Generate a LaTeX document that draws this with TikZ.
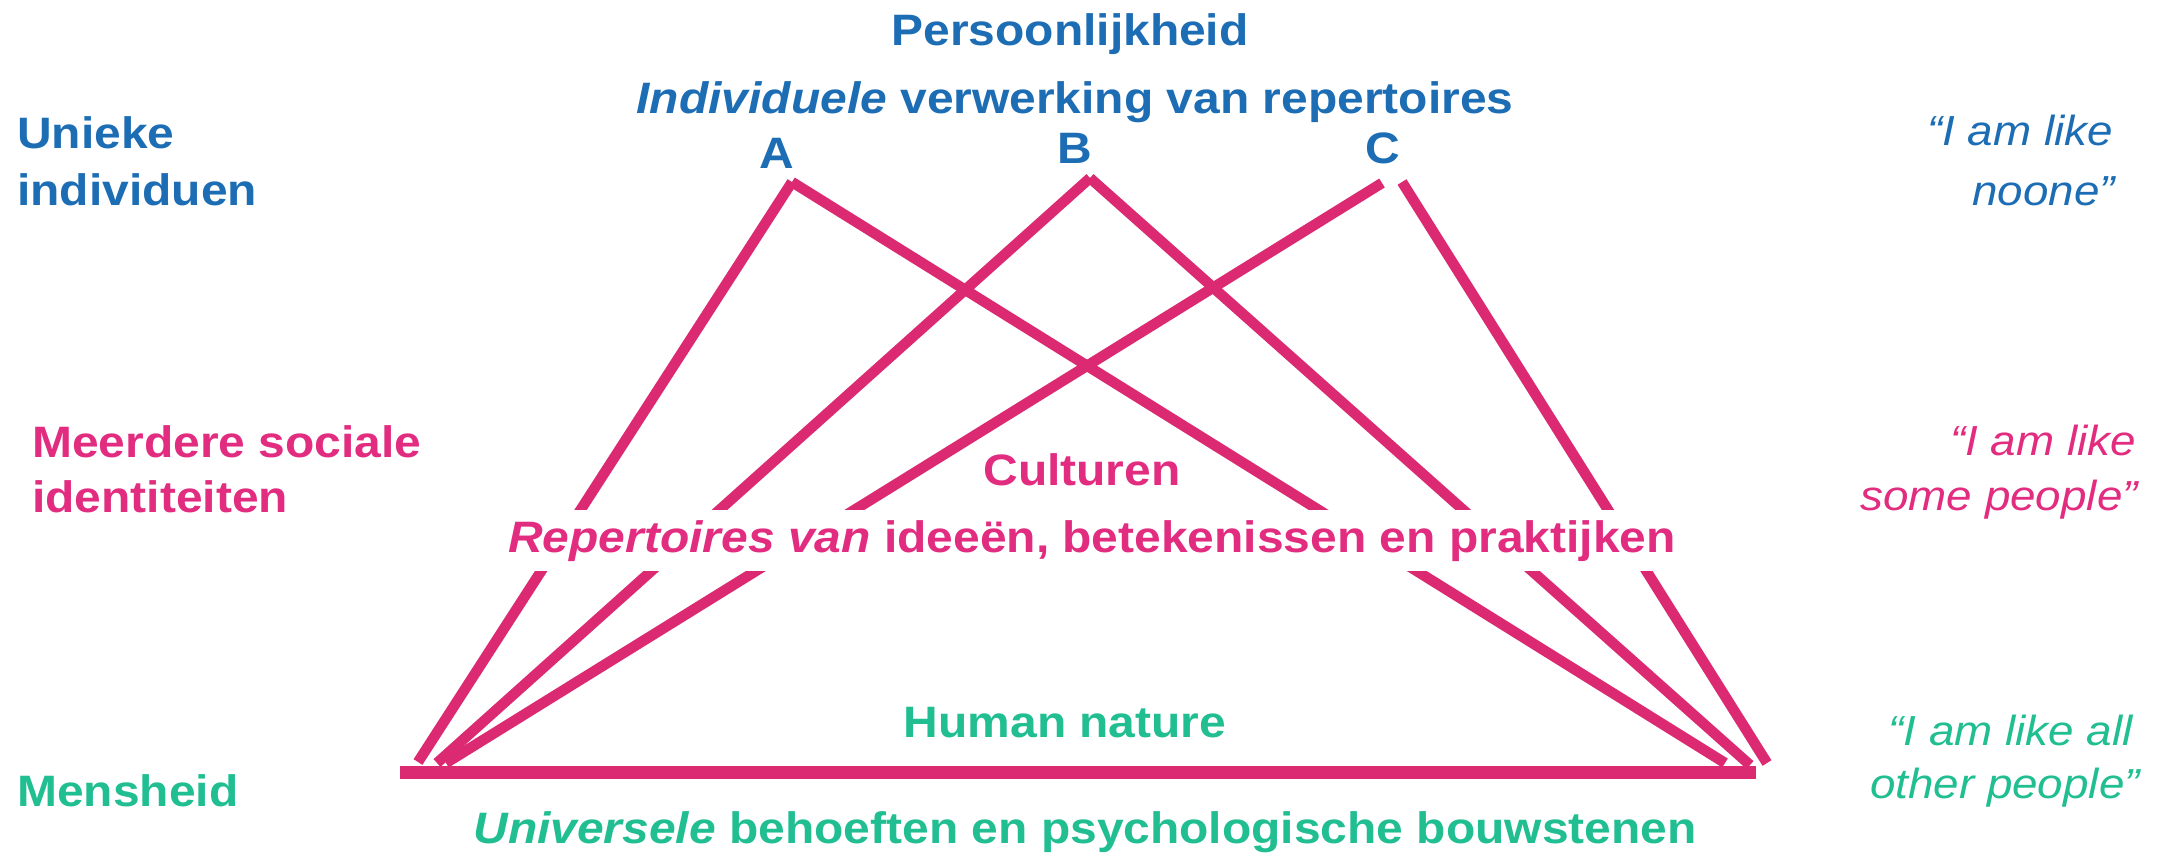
\documentclass[tikz,border=0pt]{standalone}
\usepackage{fontspec}
\setmainfont{Liberation Sans}[FakeStretch=1.09]
\definecolor{cblue}{HTML}{1C6DB4}
\definecolor{cpink}{HTML}{E22C80}
\definecolor{cline}{HTML}{DC2A72}
\definecolor{cgreen}{HTML}{20BE91}
\begin{document}
\begin{tikzpicture}[x=1pt,y=-1pt,
  lbl/.style={inner sep=0pt, font=\fontsize{44}{50}\selectfont\bfseries},
  quote/.style={inner sep=0pt, font=\fontsize{42}{50}\selectfont\itshape, anchor=base east},
  conn/.style={line width=10.5pt, draw=cline, line cap=butt},
  barline/.style={line width=13pt, draw=cline, line cap=butt}
]
\useasboundingbox (0,0) rectangle (2160,857);
% connector end points
\coordinate (pA) at (792,182);
\coordinate (pB) at (1090,178);
\coordinate (pCl) at (1382,183);
\coordinate (pCr) at (1402,182);
\coordinate (lA) at (418,762);
\coordinate (lB) at (437,763);
\coordinate (lC) at (446,763);
\coordinate (rA) at (1725,763);
\coordinate (rB) at (1750,765);
\coordinate (rC) at (1767,763);
\coordinate (bL) at (400,772);
\coordinate (bR) at (1756,772);
% lines
\draw[conn] (pA) -- (lA);
\draw[conn] (pA) -- (rA);
\draw[conn] (pB) -- (lB);
\draw[conn] (pB) -- (rB);
\draw[conn] (pCl) -- (lC);
\draw[conn] (pCr) -- (rC);
\draw[barline] (bL) -- (bR);
% top texts
\node[lbl, text=cblue, anchor=base] (pers) at (1070,45) {Persoonlijkheid};
\node[lbl, text=cblue, anchor=base] (indiv) at (1075,113) {{\itshape Individuele} verwerking van repertoires};
\node[lbl, text=cblue, anchor=base] (A) at (777,168) {A};
\node[lbl, text=cblue, anchor=base] (B) at (1075,163) {B};
\node[lbl, text=cblue, anchor=base] (C) at (1383,163) {C};
% left column
\node[lbl, text=cblue, anchor=base west] (uniek1) at (17,148) {Unieke};
\node[lbl, text=cblue, anchor=base west] (uniek2) at (17,205) {individuen};
\node[lbl, text=cpink, anchor=base west] (meer1) at (32,457) {Meerdere sociale};
\node[lbl, text=cpink, anchor=base west] (meer2) at (32,512) {identiteiten};
\node[lbl, text=cgreen, anchor=base west] (mens) at (17,806) {Mensheid};
% centre
\node[lbl, text=cpink, anchor=base] (cult) at (1082,485) {Culturen};
\node[lbl, text=cpink, anchor=base, fill=white, inner sep=10pt] (rep) at (1092,552) {{\itshape Repertoires van} ideeën, betekenissen en praktijken};
\node[lbl, text=cgreen, anchor=base] (human) at (1065,737) {Human nature};
\node[lbl, text=cgreen, anchor=base] (univ) at (1085,843) {{\itshape Universele} behoeften en psychologische bouwstenen};
% right column
\node[quote, text=cblue] (q1a) at (2113,145) {“I am like};
\node[quote, text=cblue] (q1b) at (2115,205) {noone”};
\node[quote, text=cpink] (q2a) at (2136,455) {“I am like};
\node[quote, text=cpink] (q2b) at (2138,510) {some people”};
\node[quote, text=cgreen] (q3a) at (2133,745) {“I am like all};
\node[quote, text=cgreen] (q3b) at (2140,798) {other people”};
\end{tikzpicture}
\end{document}
